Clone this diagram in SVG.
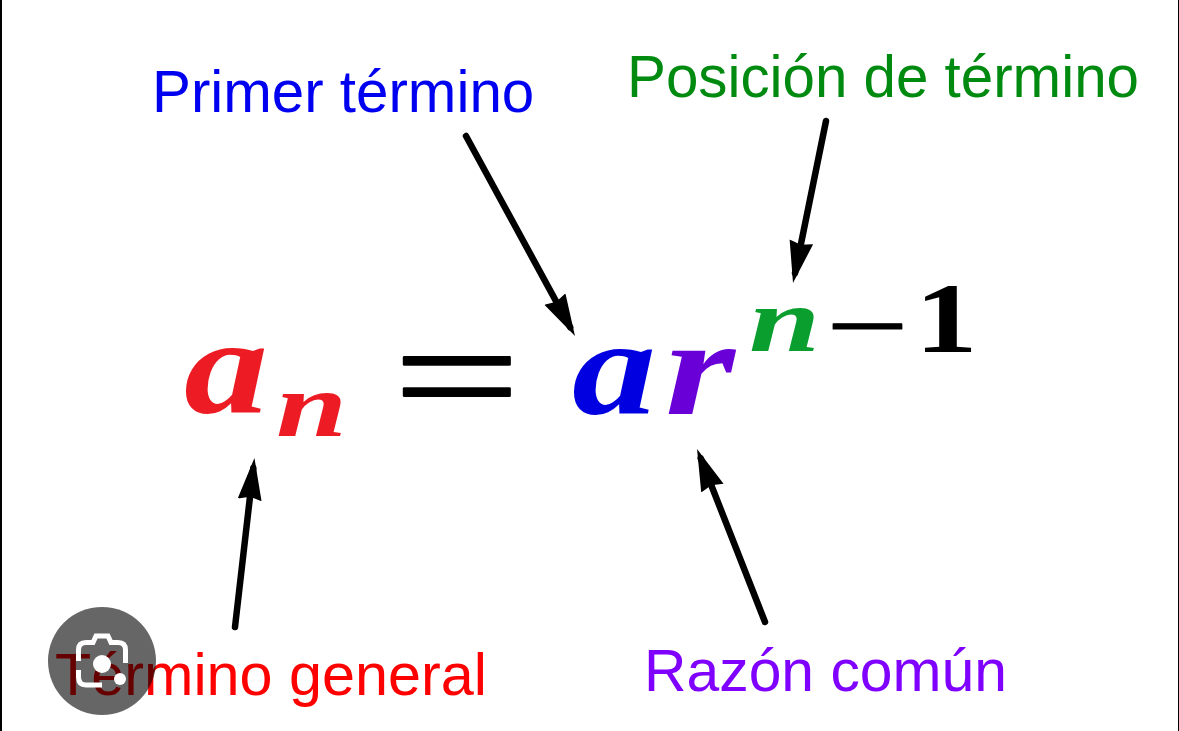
<svg xmlns="http://www.w3.org/2000/svg" width="1179" height="731" viewBox="0 0 1179 731">
<style>
.lbl{font-family:"Liberation Sans",Arial,sans-serif;font-size:58.300px}
.m{font-family:"Liberation Serif",serif;font-weight:bold;font-style:italic}
.k{font-family:"Liberation Serif",serif;fill:#000}
.arrow{stroke:#000;stroke-width:6.500;stroke-linecap:round;fill:none;marker-end:url(#head)}
</style>
<defs>
<marker id="head" markerUnits="userSpaceOnUse" markerWidth="50" markerHeight="30" refX="32" refY="12" orient="auto">
<path d="M0 0L42 12L0 24L3 12Z" fill="#000"/>
</marker>
</defs>
<rect width="1179" height="731" fill="#fff"/>
<rect x="0" y="0" width="2" height="731" fill="#000"/>
<rect x="1178" y="0" width="1" height="731" fill="#000"/>
<g id="connectors">
<path class="arrow" d="M466 136L570.200 327.200"/>
<path class="arrow" d="M826 121L795 273.200"/>
<path class="arrow" d="M235 627L253.300 468"/>
<path class="arrow" d="M765 622L700.700 458.300"/>
</g>
<g id="formula">
<text class="m" transform="translate(184 413) scale(1.220 1)" font-size="138" fill="#ed1c24">a</text>
<text class="m" transform="translate(276 436) scale(1.420 1)" font-size="90" fill="#ed1c24">n</text>
<text class="k" stroke="#000" stroke-width="2" stroke-linejoin="round" transform="translate(393 429) scale(1.440 1)" font-size="157">=</text>
<text class="m" transform="translate(572 414) scale(1.220 1)" font-size="138" fill="#0000e0">a</text>
<text class="m" transform="translate(665 414) scale(1.300 1)" font-size="138" fill="#6a00d8">r</text>
<text class="m" transform="translate(749 351) scale(1.420 1)" font-size="90" fill="#0a9e2e">n</text>
<text class="k" stroke="#000" stroke-width="1" stroke-linejoin="round" transform="translate(826 360.500) scale(1.400 1)" font-size="105">−</text>
<text class="k" font-weight="bold" transform="translate(915 352) scale(1.250 1)" font-size="100">1</text>
</g>
<g id="primer-termino"><text class="lbl" x="152" y="112" fill="#0000f0">Primer término</text></g>
<g id="posicion-termino"><text class="lbl" x="627" y="97" fill="#008a10">Posición de término</text></g>
<g id="termino-general"><text class="lbl" x="55" y="695" fill="#f00" textLength="432" lengthAdjust="spacingAndGlyphs">Término general</text></g>
<g id="razon-comun"><text class="lbl" x="644" y="691" fill="#7f00ff" textLength="363" lengthAdjust="spacingAndGlyphs">Razón común</text></g>
<g id="lens-badge">
<circle cx="102" cy="661" r="54" fill="#000" fill-opacity=".6"/>
<path d="M78.500 661V650Q78.500 642.500 86 642.500H93L96 636H108L111 642.500H118Q125.500 642.500 125.500 650V663M78.500 670V677Q78.500 685 86 685H102" fill="none" stroke="#fff" stroke-width="5"/>
<circle cx="102" cy="664" r="9" fill="#fff"/>
<circle cx="120" cy="679" r="6" fill="#fff"/>
</g>
</svg>
